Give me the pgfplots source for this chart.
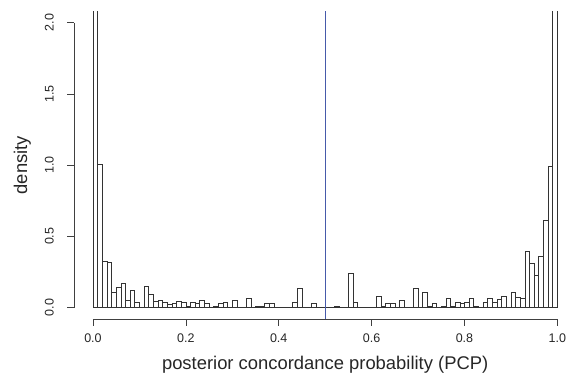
\documentclass[border=0pt]{standalone}
\usepackage{fontspec}
\setmainfont{Liberation Sans}
\usepackage{pgfplots}
\usepackage{pgfplotstable}
\pgfplotsset{compat=1.18}
\definecolor{vline}{RGB}{70,90,170}
\pgfplotstableread{
x y
0.00 4.000
0.01 1.005
0.02 0.327
0.03 0.320
0.04 0.109
0.05 0.142
0.06 0.172
0.07 0.048
0.08 0.120
0.09 0.040
0.10 0.000
0.11 0.146
0.12 0.093
0.13 0.041
0.14 0.048
0.15 0.036
0.16 0.025
0.17 0.027
0.18 0.046
0.19 0.036
0.20 0.010
0.21 0.036
0.22 0.027
0.23 0.048
0.24 0.030
0.25 0.000
0.26 0.010
0.27 0.030
0.28 0.040
0.29 0.000
0.30 0.052
0.31 0.000
0.32 0.000
0.33 0.064
0.34 0.000
0.35 0.008
0.36 0.008
0.37 0.030
0.38 0.030
0.39 0.000
0.40 0.000
0.41 0.000
0.42 0.000
0.43 0.036
0.44 0.135
0.45 0.000
0.46 0.000
0.47 0.027
0.48 0.000
0.49 0.000
0.50 0.000
0.51 0.000
0.52 0.008
0.53 0.000
0.54 0.000
0.55 0.240
0.56 0.036
0.57 0.000
0.58 0.000
0.59 0.000
0.60 0.000
0.61 0.080
0.62 0.008
0.63 0.030
0.64 0.030
0.65 0.000
0.66 0.048
0.67 0.000
0.68 0.000
0.69 0.135
0.70 0.000
0.71 0.107
0.72 0.008
0.73 0.030
0.74 0.000
0.75 0.008
0.76 0.064
0.77 0.008
0.78 0.036
0.79 0.030
0.80 0.036
0.81 0.064
0.82 0.008
0.83 0.000
0.84 0.036
0.85 0.064
0.86 0.036
0.87 0.057
0.88 0.080
0.89 0.000
0.90 0.107
0.91 0.070
0.92 0.065
0.93 0.395
0.94 0.310
0.95 0.228
0.96 0.357
0.97 0.614
0.98 0.990
0.99 3.500
1.00 0.000
}\histdata
\begin{document}
\begin{tikzpicture}
\begin{axis}[
  scale only axis, width=501.5pt, height=307.6pt,
  xmin=-0.04, xmax=1.04, ymin=-0.08, ymax=2.08,
  axis x line*=bottom, axis y line*=left,
  axis line style={draw=none},
  clip mode=individual,
  xtick={0,0.2,0.4,0.6,0.8,1}, xticklabels={0.0,0.2,0.4,0.6,0.8,1.0},
  ytick={0,0.5,1,1.5,2}, yticklabels={0.0,0.5,1.0,1.5,2.0},
  minor tick num=0,
  tick align=outside, major tick length=7pt,
  tick style={black!75, line width=0.6pt},
  ticklabel style={font=\fontsize{12.5}{14}\selectfont, text=black!85},
  xticklabel style={anchor=north},
  xticklabel shift=4.2pt,
  yticklabel style={rotate=90, anchor=south},
  yticklabel shift=10pt,
  xlabel={posterior concordance probability (PCP)},
  ylabel={density},
  label style={font=\fontsize{18.4}{22}\selectfont, text=black!85},
  xlabel style={at={(rel axis cs:0.5,-0.1495)}, anchor=center},
  ylabel style={at={(rel axis cs:-0.1037,0.5)}, anchor=center},
]
\addplot[ybar interval, draw=black!80, fill=white, line width=0.6pt] table[x=x, y=y] {\histdata};
\addplot[vline, line width=0.6pt] coordinates {(0.5,-0.08) (0.5,2.08)};
\draw[black!75, line width=0.6pt] (axis cs:0,-0.08) -- (axis cs:1,-0.08);
\draw[black!75, line width=0.6pt] (axis cs:-0.04,0) -- (axis cs:-0.04,2);
\end{axis}
\pgfresetboundingbox
\path[use as bounding box] (-74.4pt,-62.1pt) rectangle (494.6pt,318.9pt);
\end{tikzpicture}
\end{document}
